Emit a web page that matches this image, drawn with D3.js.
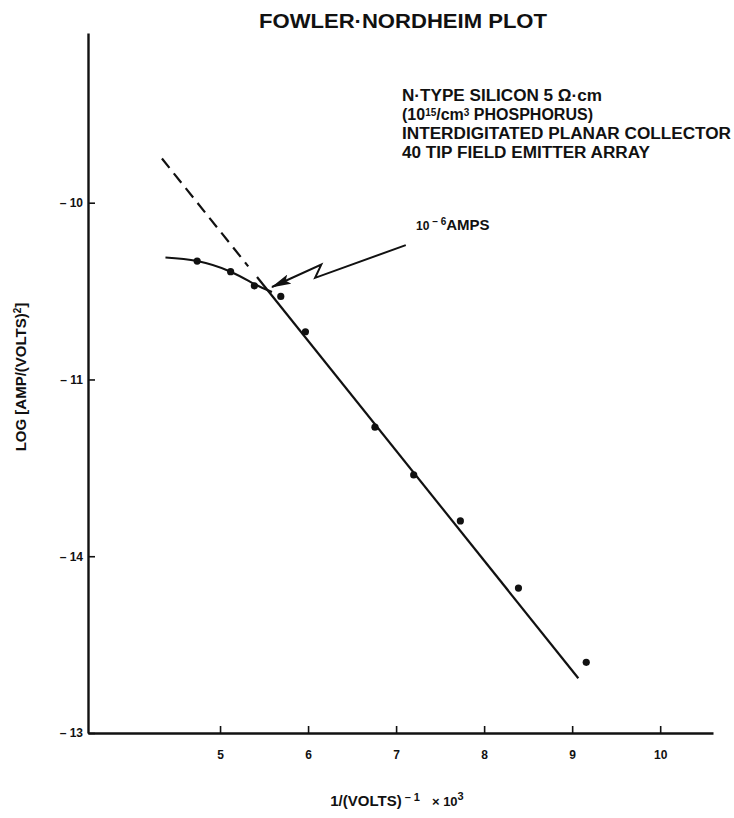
<!DOCTYPE html>
<html><head><meta charset="utf-8">
<script src="https://cdn.jsdelivr.net/npm/d3@7"></script>
<style>
body{margin:0;background:#fff;}
svg{display:block;}
text{font-family:"Liberation Sans",Arial,Helvetica,sans-serif;font-weight:bold;fill:#111;}
</style>
</head><body>
<svg id="chart" width="734" height="818"></svg>
<script>
// ---- data ----
const xTicks = [5, 6, 7, 8, 9, 10];
const xTickLabels = ["5", "6", "7", "8", "9", "10"];
const yTicks = [-10, -11, -12, -13];
const yTickLabels = ["– 10", "– 11", "– 14", "– 13"];

// measured points: 1/V (x10^3) and log(I/V^2)
const measuredX = [4.74, 5.12, 5.39, 5.69, 5.97, 6.76, 7.20, 7.73, 8.39, 9.16];
const measuredY = [-10.33, -10.39, -10.47, -10.53, -10.73, -11.27, -11.54, -11.80, -12.18, -12.60];

// low-field knee curve
const kneeX = [4.38, 4.74, 5.12, 5.39, 5.59];
const kneeY = [-10.31, -10.33, -10.39, -10.46, -10.505];

// straight Fowler-Nordheim fit and its dashed extrapolation
const fitX = [5.42, 9.07];
const fitY = [-10.42, -12.69];
const extrapX = [4.34, 5.32];
const extrapY = [-9.75, -10.36];

// lightning arrow annotation (tail -> zig -> zag -> tip)
const arrowX = [7.11, 6.08, 6.15, 5.59];
const arrowY = [-10.24, -10.425, -10.35, -10.477];

const titleText = "FOWLER·NORDHEIM PLOT";

// ---- drawing ----
const svg = d3.select("#chart");
const x = d3.scaleLinear().domain([3.5, 10.6]).range([88, 713]);
const y = d3.scaleLinear().domain([-13, -9.04]).range([733, 33]);
const ink = "#111";

svg.append("text").attr("x", 403).attr("y", 28).attr("text-anchor", "middle")
  .attr("font-size", 21).attr("textLength", 288).attr("lengthAdjust", "spacingAndGlyphs")
  .text(titleText);

// x axis
const gx = svg.append("g").attr("transform", `translate(0,${y(-13)})`)
  .call(d3.axisBottom(x).tickValues(xTicks).tickSize(-7).tickSizeOuter(0).tickPadding(17)
    .tickFormat((d, i) => xTickLabels[i]));
// y axis
const gy = svg.append("g").attr("transform", `translate(${x(3.5)},0)`)
  .call(d3.axisLeft(y).tickValues(yTicks).tickSize(-7).tickSizeOuter(0).tickPadding(5)
    .tickFormat((d, i) => yTickLabels[i]));
[gx, gy].forEach(g => {
  g.select(".domain").attr("stroke", ink).attr("stroke-width", 2.4);
  g.selectAll(".tick line").attr("stroke", ink).attr("stroke-width", 1.6);
  g.selectAll(".tick text").attr("font-size", 12).attr("fill", ink)
    .style("font-family", '"Liberation Sans",Arial,sans-serif').style("font-weight", "bold");
});

// axis titles
const xt = svg.append("text").attr("x", 397).attr("y", 806).attr("text-anchor", "middle").attr("font-size", 15);
xt.append("tspan").text("1/(VOLTS)");
xt.append("tspan").attr("font-size", 11).attr("dy", -5).attr("dx", 3).text("– 1");
xt.append("tspan").attr("font-size", 13).attr("dy", 5).attr("dx", 12).text("× 10");
xt.append("tspan").attr("font-size", 11).attr("dy", -6).text("3");

const yt = svg.append("text").attr("transform", "translate(26,377) rotate(-90)")
  .attr("text-anchor", "middle").attr("font-size", 15);
yt.append("tspan").text("LOG [AMP/(VOLTS)");
yt.append("tspan").attr("font-size", 10).attr("dy", -5).text("2");
yt.append("tspan").attr("dy", 5).text("]");

// annotation block
const notes = svg.append("g").attr("font-size", 16);
notes.append("text").attr("x", 402).attr("y", 101).attr("textLength", 200).attr("lengthAdjust", "spacingAndGlyphs")
  .text("N·TYPE SILICON 5 Ω·cm");
const n2 = notes.append("text").attr("x", 402).attr("y", 120);
n2.append("tspan").text("(10");
n2.append("tspan").attr("font-size", 10).attr("dy", -4).text("15");
n2.append("tspan").attr("dy", 4).text("/cm");
n2.append("tspan").attr("font-size", 10).attr("dy", -4).text("3");
n2.append("tspan").attr("dy", 4).text(" PHOSPHORUS)");
notes.append("text").attr("x", 402).attr("y", 139).attr("textLength", 329).attr("lengthAdjust", "spacingAndGlyphs")
  .text("INTERDIGITATED PLANAR COLLECTOR");
notes.append("text").attr("x", 402).attr("y", 158).attr("textLength", 248).attr("lengthAdjust", "spacingAndGlyphs")
  .text("40 TIP FIELD EMITTER ARRAY");

// 10^-6 AMPS label
const amps = svg.append("text").attr("x", 416).attr("y", 230);
amps.append("tspan").attr("font-size", 12).text("10");
amps.append("tspan").attr("font-size", 10).attr("dy", -5).attr("dx", 3).text("– 6");
amps.append("tspan").attr("font-size", 15).attr("dy", 5).text("AMPS");

// lines
const line = d3.line().x(d => x(d[0])).y(d => y(d[1]));
svg.append("path").attr("d", line(extrapX.map((v, i) => [v, extrapY[i]])))
  .attr("fill", "none").attr("stroke", ink).attr("stroke-width", 2.2).attr("stroke-dasharray", "12,7");
svg.append("path").attr("d", line(fitX.map((v, i) => [v, fitY[i]])))
  .attr("fill", "none").attr("stroke", ink).attr("stroke-width", 2.2);
svg.append("path").attr("d", line.curve(d3.curveNatural)(kneeX.map((v, i) => [v, kneeY[i]])))
  .attr("fill", "none").attr("stroke", ink).attr("stroke-width", 2.2);

// points
svg.append("g").selectAll("circle").data(measuredX.map((v, i) => [v, measuredY[i]])).join("circle")
  .attr("cx", d => x(d[0])).attr("cy", d => y(d[1])).attr("r", 3.6).attr("fill", ink);

// arrow
svg.append("defs").append("marker").attr("id", "head").attr("viewBox", "0 0 20 10")
  .attr("refX", 19).attr("refY", 5).attr("markerWidth", 20).attr("markerHeight", 10)
  .attr("markerUnits", "userSpaceOnUse").attr("orient", "auto")
  .append("path").attr("d", "M0,0 L20,5 L0,10 L4,5 Z").attr("fill", ink);
svg.append("path").attr("d", d3.line().x(d => x(d[0])).y(d => y(d[1]))(arrowX.map((v, i) => [v, arrowY[i]])))
  .attr("fill", "none").attr("stroke", ink).attr("stroke-width", 2).attr("stroke-linejoin", "miter")
  .attr("marker-end", "url(#head)");
</script>
</body></html>
